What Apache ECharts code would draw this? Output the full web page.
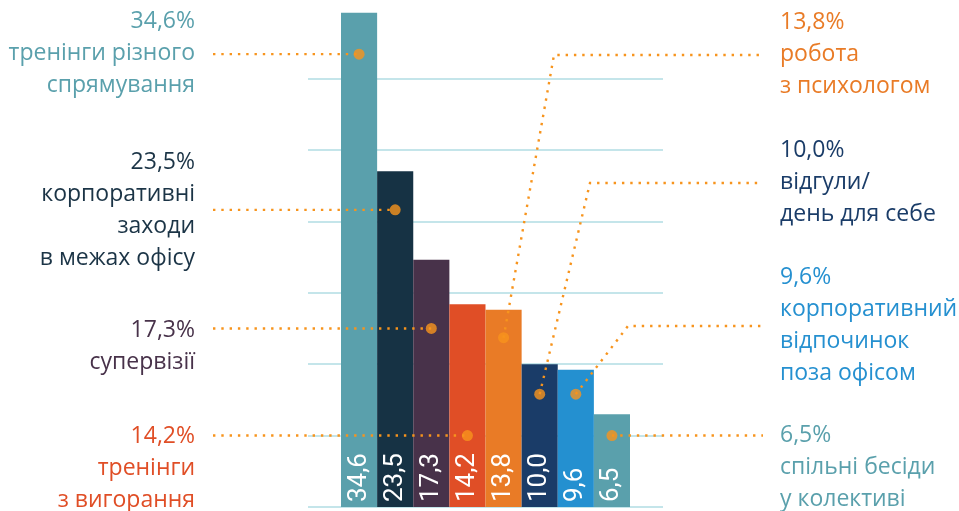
<!DOCTYPE html>
<html><head><meta charset="utf-8">
<script src="https://cdn.jsdelivr.net/npm/echarts@6/dist/echarts.min.js"></script>
<style>html,body{margin:0;padding:0;background:#fff}#c{width:959px;height:511px}</style>
</head><body><div id="c"></div>
<script>
// ---- data ----
const categories = ['тренінги різного спрямування', 'корпоративні заходи в межах офісу', 'супервізії', 'тренінги з вигорання', 'робота з психологом', 'відгули/ день для себе', 'корпоративний відпочинок поза офісом', 'спільні бесіди у колективі'];
const values = [34.6, 23.5, 17.3, 14.2, 13.8, 10.0, 9.6, 6.5];
const labelLines = [
  ['тренінги різного', 'спрямування'],
  ['корпоративні', 'заходи', 'в межах офісу'],
  ['супервізії'],
  ['тренінги', 'з вигорання'],
  ['робота', 'з психологом'],
  ['відгули/', 'день для себе'],
  ['корпоративний', 'відпочинок', 'поза офісом'],
  ['спільні бесіди', 'у колективі']
];
// anchor value (in axis units) of each orange marker on its bar
const markerValues = [31.7, 20.8, 12.5, 5.0, 11.85, 7.9, 7.9, 5.0];

// ---- styles / layout ----
const barColors = ['#5aa0ac', '#163244', '#48324a', '#e04e26', '#e97b26', '#1a3c68', '#2490d0', '#5aa0ac'];
const textColors = ['#5aa0ac', '#1b3446', '#48324a', '#e04e26', '#e97b26', '#1a3c68', '#2590d0', '#5aa0ac'];
const ORANGE = '#f7941d';
const blockLayout = [
  { side: 'left', top: 5.5 },
  { side: 'left', top: 146.5 },
  { side: 'left', top: 314 },
  { side: 'left', top: 420 },
  { side: 'right', top: 6, elbow: [554, 55] },
  { side: 'right', top: 134, elbow: [590, 183] },
  { side: 'right', top: 261, elbow: [628, 326] },
  { side: 'right', top: 419 }
];
const LEFT_TEXT_X = 195, RIGHT_TEXT_X = 780, LEFT_LEAD_X = 213, RIGHT_LEAD_X = 763;
const FONT = '"Open Sans", "Noto Sans", sans-serif';

const fmt = v => v.toFixed(1).replace('.', ',');

const chart = echarts.init(document.getElementById('c'), null, { renderer: 'canvas' });

const option = {
  backgroundColor: '#ffffff',
  animation: false,
  grid: [
    { left: 341, right: 329, top: 7, bottom: 4 },
    { left: 308, right: 296, top: 7, bottom: 4 }
  ],
  xAxis: [
    { type: 'category', gridIndex: 0, data: categories, show: false },
    { type: 'value', gridIndex: 1, min: 0, max: 1, show: false }
  ],
  yAxis: [
    { type: 'value', gridIndex: 0, min: 0, max: 35, interval: 5, show: false },
    {
      type: 'value', gridIndex: 1, min: 0, max: 35, interval: 5,
      axisLine: { show: false }, axisTick: { show: false }, axisLabel: { show: false },
      splitLine: { show: true, showMaxLine: false, lineStyle: { color: '#c4e5ea', width: 2 } }
    }
  ],
  series: [
    {
      type: 'bar', xAxisIndex: 0, yAxisIndex: 0, barCategoryGap: 0, z: 2,
      data: values.map((v, i) => ({ value: v, itemStyle: { color: barColors[i] } })),
      label: {
        show: true, position: 'insideBottom', rotate: 90, align: 'left', verticalAlign: 'middle',
        distance: 5, color: '#ffffff', fontSize: 26, fontFamily: '"Liberation Sans Narrow", Roboto, sans-serif',
        formatter: p => fmt(p.value)
      }
    },
    {
      type: 'scatter', xAxisIndex: 0, yAxisIndex: 0, z: 100, symbolSize: 11,
      itemStyle: { color: ORANGE },
      data: markerValues.map((v, i) => [i, v])
    }
  ]
};
chart.setOption(option);

const graphics = [];
values.forEach((v, i) => {
  const L = blockLayout[i];
  const dot = chart.convertToPixel({ seriesIndex: 1 }, [i, markerValues[i]]);
  let pts;
  if (L.side === 'left') {
    pts = [[LEFT_LEAD_X, dot[1]], dot];
  } else if (L.elbow) {
    pts = [dot, L.elbow, [RIGHT_LEAD_X, L.elbow[1]]];
  } else {
    pts = [dot, [RIGHT_LEAD_X, dot[1]]];
  }
  graphics.push({
    type: 'polyline', z: 50, silent: true,
    shape: { points: pts },
    style: { stroke: ORANGE, lineWidth: 2.4, lineDash: [2.4, 5.9], fill: null }
  });
  const text = [fmt(v) + '%'].concat(labelLines[i]).join('\n');
  graphics.push({
    type: 'text', z: 60, silent: true,
    x: L.side === 'left' ? LEFT_TEXT_X : RIGHT_TEXT_X,
    y: L.top,
    style: {
      text: text, fill: textColors[i],
      fontSize: 23, fontFamily: FONT, lineHeight: 32,
      align: L.side === 'left' ? 'right' : 'left', verticalAlign: 'top',
      textAlign: L.side === 'left' ? 'right' : 'left', textVerticalAlign: 'top'
    }
  });
});
chart.setOption({ graphic: graphics });
</script>
</body></html>
